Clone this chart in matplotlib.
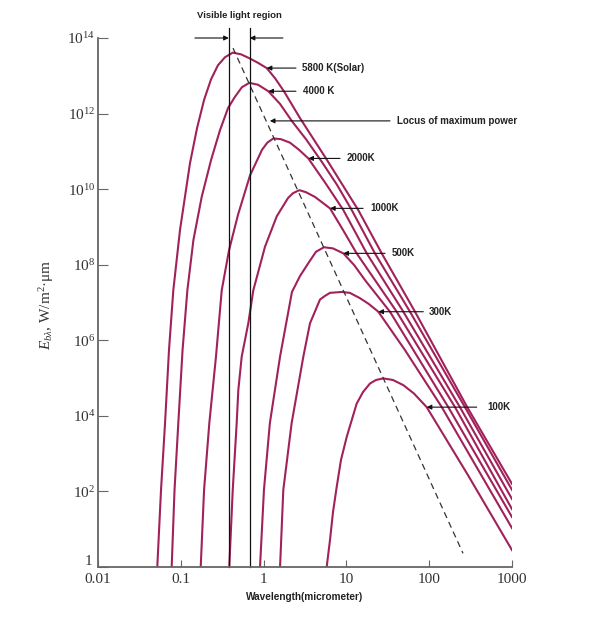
import matplotlib
matplotlib.use("Agg")
import matplotlib.pyplot as plt
import matplotlib.transforms as mtransforms

plt.rcParams['mathtext.fontset'] = 'custom'
plt.rcParams['mathtext.rm'] = 'Liberation Serif'
plt.rcParams['mathtext.it'] = 'Liberation Serif:italic'

# ---- data (wavelength in micrometer, E in W/m^2.um) ----
wl_5800 = [0.052, 0.0577, 0.0645, 0.072, 0.0812, 0.0978, 0.129, 0.157, 0.191, 0.232, 0.281, 0.342, 0.424,
           0.533, 0.676, 0.856, 1.09, 1.37, 1.76, 2.75, 5.83, 13.9, 26.7, 67.4, 288, 1000]
E_5800 = [1, 110, 6.4e3, 5.5e5, 2.1e7, 8.3e8, 4.8e10, 4.1e11, 2.3e12, 8.1e12, 1.9e13, 3.1e13, 4.1e13,
          3.7e13, 2.9e13, 2.2e13, 1.6e13, 8.7e12, 3.9e12, 7.6e11, 5.9e10, 2.8e9, 2.0e8, 5.7e6, 1.7e4, 158]

wl_4000 = [0.0776, 0.084, 0.0933, 0.105, 0.12, 0.142, 0.179, 0.232, 0.297, 0.372, 0.452, 0.548, 0.672,
           0.856, 1.14, 1.58, 2.20, 3.25, 5.07, 7.7, 11.6, 22.1, 58.6, 270, 1000]
E_4000 = [1, 110, 6.4e3, 5.5e5, 2.1e7, 4.5e8, 6.3e9, 5.9e10, 3.6e11, 1.4e12, 2.8e12, 5.0e12, 6.5e12,
          5.8e12, 3.9e12, 1.8e12, 6.3e11, 2.1e11, 5.2e10, 1.3e10, 2.8e9, 2.0e8, 5.7e6, 1.7e4, 110]

wl_2000 = [0.174, 0.191, 0.221, 0.266, 0.312, 0.382, 0.491, 0.685, 0.957, 1.11, 1.31, 1.62, 2.08, 2.68,
           3.47, 5.52, 9.18, 17.6, 48.7, 235, 1000]
E_2000 = [1, 110, 6.4e3, 3.7e5, 2.1e7, 2.4e8, 2.1e9, 2.3e10, 1.1e11, 1.7e11, 2.2e11, 2.1e11, 1.7e11, 1.1e11,
          6.5e10, 1.5e10, 2.8e9, 2.0e8, 5.7e6, 1.7e4, 63]

wl_1000 = [0.385, 0.424, 0.473, 0.495, 0.544, 0.653, 0.751, 1.04, 1.44, 1.97, 2.26, 2.70, 3.25, 4.18,
           5.07, 6.34, 9.1, 13.3, 40.5, 205, 1000]
E_1000 = [1, 110, 6.4e3, 4.8e4, 3.7e5, 2.8e6, 2.1e7, 3.0e8, 1.9e9, 5.8e9, 7.8e9, 9.4e9, 8.3e9, 6.2e9,
          4.5e9, 3.1e9, 8.3e8, 2.0e8, 5.7e6, 1.7e4, 34]

wl_500 = [0.905, 1.01, 1.19, 1.58, 2.20, 2.75, 3.47, 4.29, 5.36, 6.89, 9.18, 12.4, 16.8, 33.6, 170, 1000]
E_500 = [1, 110, 6.4e3, 3.7e5, 1.9e7, 5.0e7, 1.1e8, 2.2e8, 2.9e8, 2.7e8, 2.0e8, 9.8e7, 3.9e7, 5.7e6, 1.7e4, 21]

wl_300 = [1.58, 1.73, 2.18, 3.02, 3.63, 4.80, 5.52, 6.34, 8.77, 11.0, 14.6, 18.7, 24.3, 51, 142, 1000]
E_300 = [1, 110, 6.4e3, 3.7e5, 2.8e6, 1.2e7, 1.5e7, 1.8e7, 1.9e7, 1.8e7, 1.3e7, 9.1e6, 5.7e6, 5.5e5, 1.7e4, 10.7]

wl_100 = [5.78, 6.34, 6.89, 7.64, 8.6, 10.1, 13.3, 15.9, 19.3, 22.8, 27.9, 36.5, 48.7, 65.5, 93.3, 294, 1000]
E_100 = [1, 5.2, 28.5, 133, 680, 2.8e3, 2.1e4, 4.3e4, 7.2e4, 8.9e4, 9.8e4, 8.9e4, 6.5e4, 3.9e4, 1.7e4, 270, 2.8]

locus_wl = [0.427, 256]
locus_E = [5.4e13, 2.3]

visible_bounds = [0.38, 0.68]

curves = [(wl_5800, E_5800), (wl_4000, E_4000), (wl_2000, E_2000), (wl_1000, E_1000),
          (wl_500, E_500), (wl_300, E_300), (wl_100, E_100)]

# label, arrow tip (x, y), line start x, text x
labels = [
    ("5800 K(Solar)", 1.09, 1.6e13, 2.46, 2.88),
    ("4000 K", 1.14, 3.9e12, 2.46, 2.97),
    ("Locus of maximum power", 1.19, 6.4e11, 33.6, 40.5),
    ("2000K", 3.47, 6.5e10, 8.37, 10.1),
    ("1000K", 6.34, 3.1e9, 15.9, 19.7),
    ("500K", 9.18, 2.0e8, 29.3, 35.2),
    ("300K", 24.3, 5.7e6, 84.9, 99.5),
    ("100K", 93.3, 1.7e4, 375, 503),
]

x_ticks = [0.01, 0.1, 1, 10, 100, 1000]
x_ticklabels = ["0.01", "0.1", "1", "10", "100", "1000"]
y_ticks = [1, 1e2, 1e4, 1e6, 1e8, 1e10, 1e12, 1e14]
y_ticklabels = ["1", "10$^2$", "10$^4$", "10$^6$", "10$^8$", "10$^{10}$", "10$^{12}$", "10$^{14}$"]

# ---- figure ----
fig = plt.figure(figsize=(6, 6.18), dpi=100)
ax = fig.add_axes([98 / 600, 51 / 618, 414 / 600, 529 / 618])
ax.set_xscale('log')
ax.set_yscale('log')
ax.set_xlim(0.01, 1000)
ax.set_ylim(1, 1e14)

curve_color = '#a1215a'
for wl, E in curves:
    ax.plot(wl, E, color=curve_color, lw=1.5, solid_joinstyle='round')

ax.plot(locus_wl, locus_E, color='#333333', lw=0.9, dashes=(5, 3.5))

for xv in visible_bounds:
    ax.plot([xv, xv], [1, 1.8e14], color='#111111', lw=0.9, clip_on=False)

arrow_kw = dict(arrowstyle='-|>', color='#111111', lw=0.8, mutation_scale=7, shrinkA=0, shrinkB=0)
ax.annotate('', xy=(visible_bounds[0], 1e14), xytext=(0.148, 1e14), arrowprops=arrow_kw, annotation_clip=False)
ax.annotate('', xy=(visible_bounds[1], 1e14), xytext=(1.71, 1e14), arrowprops=arrow_kw, annotation_clip=False)
fig.text(239 / 600, 1 - 15 / 618, "Visible light region", ha='center', va='center',
         fontsize=6.8, fontweight='bold', family='Liberation Sans', color='#222222')

for text, tx, ty, lx, txt_x in labels:
    ax.annotate('', xy=(tx, ty), xytext=(lx, ty), arrowprops=arrow_kw, annotation_clip=False)
    ax.text(txt_x, ty, text, ha='left', va='center', fontsize=7, fontweight='bold',
            family='Liberation Sans', color='#222222')

for s in ['top', 'right']:
    ax.spines[s].set_visible(False)
for s in ['left', 'bottom']:
    ax.spines[s].set_color('#666666')
    ax.spines[s].set_linewidth(1.3)

ax.set_xticks(x_ticks)
ax.set_xticklabels(x_ticklabels)
ax.set_yticks(y_ticks)
ax.set_yticklabels(y_ticklabels)
ax.minorticks_off()
ax.tick_params(axis='y', direction='in', length=7, width=0.8, color='#666666', pad=2,
               labelsize=11, labelcolor='#333333')
ax.tick_params(axis='x', direction='in', length=5, width=0.8, color='#666666', pad=4,
               labelsize=11, labelcolor='#333333')
for lab in ax.get_xticklabels() + ax.get_yticklabels():
    lab.set_family('Liberation Serif')

# lift the "1" label slightly above the x-axis as in the original
one_label = ax.get_yticklabels()[0]
one_label.set_transform(one_label.get_transform() +
                        mtransforms.ScaledTranslation(-2 / 72, 5 / 72, fig.dpi_scale_trans))

fig.text(47 / 600, 1 - 305 / 618, r"$E_{b\lambda}$, W/m$^2$·μm", rotation=90, ha='center', va='center',
         fontsize=11, family='Liberation Serif', color='#333333')
fig.text(305 / 600, 1 - 597 / 618, "Wavelength(micrometer)", ha='center', va='center',
         fontsize=7.2, fontweight='bold', family='Liberation Sans', color='#222222')

fig.savefig('out.png', dpi=100)
